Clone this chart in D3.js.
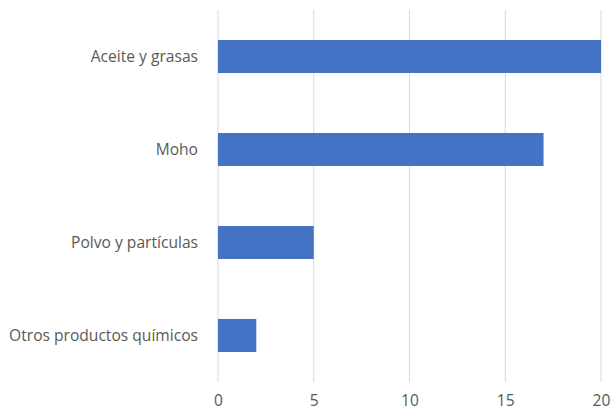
<!DOCTYPE html>
<html><head><meta charset="utf-8">
<script src="https://cdn.jsdelivr.net/npm/d3@7"></script>
<style>body{margin:0;background:#fff}</style>
</head><body>
<svg id="c" width="611" height="414"></svg>
<script>
const categories = ["Aceite y grasas", "Moho", "Polvo y partículas", "Otros productos químicos"];
const values = [20, 17, 5, 2];
const tickValues = [0, 5, 10, 15, 20];

const svg = d3.select("#c");
const m = {left: 218, right: 10, top: 10, bottom: 32};
const W = 611, H = 414;
const x = d3.scaleLinear().domain([0, 20]).range([m.left, 601]);
const y = d3.scaleBand().domain(categories).range([m.top, H - m.bottom]).paddingInner(0.645).paddingOuter(0.3225);
const font = "'Open Sans', sans-serif";

svg.append("g").selectAll("line").data(tickValues).join("line")
  .attr("x1", d => x(d)).attr("x2", d => x(d))
  .attr("y1", m.top).attr("y2", H - m.bottom)
  .attr("stroke", "#d9d9d9").attr("stroke-width", 1);

svg.append("g").selectAll("rect").data(categories).join("rect")
  .attr("x", x(0)).attr("y", d => y(d))
  .attr("width", (d, i) => x(values[i]) - x(0))
  .attr("height", y.bandwidth())
  .attr("fill", "#4472c4");

const yAxis = d3.axisLeft(y).tickSize(0).tickPadding(20);
const gy = svg.append("g").attr("transform", `translate(${m.left},0)`).call(yAxis);
gy.select(".domain").remove();
gy.selectAll("text").attr("font-family", font).attr("font-size", 15.6).attr("fill", "#595959");

const xAxis = d3.axisBottom(x).tickValues(tickValues).tickSize(0).tickPadding(13);
const gx = svg.append("g").attr("transform", `translate(0,${H - m.bottom})`).call(xAxis);
gx.select(".domain").remove();
gx.selectAll("text").attr("font-family", font).attr("font-size", 15.6).attr("fill", "#595959");
</script>
</body></html>
